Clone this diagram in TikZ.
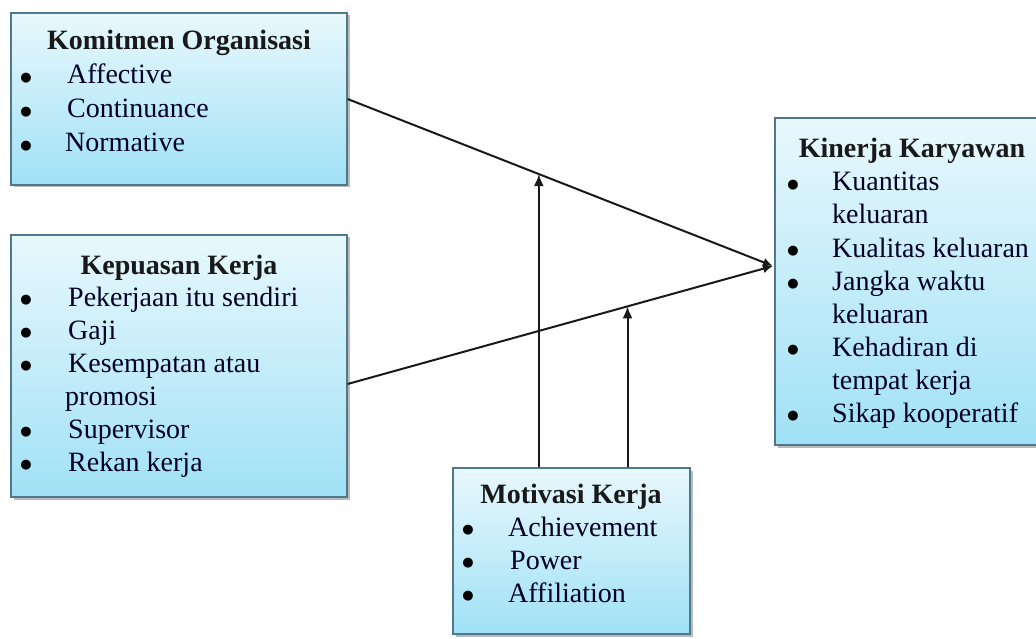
\documentclass[tikz,border=0pt]{standalone}
\usepackage{fontspec}
\setmainfont{Liberation Serif}
\newfontfamily\dejavu{DejaVu Sans}
\usetikzlibrary{arrows.meta,shadows,calc}
\definecolor{boxtop}{RGB}{232,248,253}
\definecolor{boxbot}{RGB}{160,225,246}
\definecolor{boxline}{RGB}{80,120,140}
\tikzset{
  panel/.style={draw=boxline, line width=1.2pt, top color=boxtop, bottom color=boxbot,
    inner sep=0pt, drop shadow={shadow xshift=2.5pt, shadow yshift=-2.5pt, fill=black!45, opacity=0.6}},
  ttl/.style={font=\fontsize{28}{33}\selectfont\bfseries, anchor=base, inner sep=0pt, text=black!90},
  itm/.style={font=\fontsize{28}{33}\selectfont, anchor=base west, inner sep=0pt, text=black!85!blue},
  bul/.style={font=\dejavu\fontsize{13}{14}\selectfont, anchor=base, inner sep=0pt, yshift=2.5pt},
  link/.style={line width=2pt, black!90},
  tipa/.style={-{Latex[length=10pt,width=9pt]}},
  upa/.style={-{Latex[length=12pt,width=10pt]}},
}
\begin{document}
\begin{tikzpicture}[x=1pt,y=-1pt]
\useasboundingbox (0,0) rectangle (1036,639);
\fill[white] (0,0) rectangle (1036,639);
\begin{scope}
\clip (0,0) rectangle (1036,639);
% boxes
\node[panel, minimum width=336pt, minimum height=172pt] (k1) at (179,99) {};
\node[panel, minimum width=336pt, minimum height=262pt] (k2) at (179,366) {};
\node[panel, minimum width=237pt, minimum height=166pt] (m3) at (571.5,551) {};
\node[panel, minimum width=275pt, minimum height=327pt] (k4) at (912.5,281.5) {};

% Komitmen Organisasi
\node[ttl] (k1t) at (179,50) {Komitmen Organisasi};
\node[bul] (k1b1) at (26,84) {●};  \node[itm] (k1i1) at (67,84) {Affective};
\node[bul] (k1b2) at (26,118) {●}; \node[itm] (k1i2) at (67,118) {Continuance};
\node[bul] (k1b3) at (26,152) {●}; \node[itm] (k1i3) at (65,152) {Normative};

% Kepuasan Kerja
\node[ttl] (k2t) at (179,274) {Kepuasan Kerja};
\node[bul] (k2b1) at (26,306) {●}; \node[itm] (k2i1) at (68,306) {Pekerjaan itu sendiri};
\node[bul] (k2b2) at (26,339) {●}; \node[itm] (k2i2) at (68,339) {Gaji};
\node[bul] (k2b3) at (26,372) {●}; \node[itm] (k2i3) at (68,372) {Kesempatan atau};
\node[itm] (k2i3b) at (65,405) {promosi};
\node[bul] (k2b4) at (26,438) {●}; \node[itm] (k2i4) at (68,438) {Supervisor};
\node[bul] (k2b5) at (26,471) {●}; \node[itm] (k2i5) at (68,471) {Rekan kerja};

% Motivasi Kerja
\node[ttl] (m3t) at (571,503) {Motivasi Kerja};
\node[bul] (m3b1) at (468,536) {●}; \node[itm] (m3i1) at (508,536) {Achievement};
\node[bul] (m3b2) at (468,569) {●}; \node[itm] (m3i2) at (510,569) {Power};
\node[bul] (m3b3) at (468,602) {●}; \node[itm] (m3i3) at (508,602) {Affiliation};

% Kinerja Karyawan
\node[ttl] (k4t) at (912,158) {Kinerja Karyawan};
\node[bul] (k4b1) at (793,191) {●}; \node[itm] (k4i1) at (832,191) {Kuantitas};
\node[itm] (k4i1b) at (832,224) {keluaran};
\node[bul] (k4b2) at (793,257) {●}; \node[itm] (k4i2) at (832,257) {Kualitas keluaran};
\node[bul] (k4b3) at (793,290) {●}; \node[itm] (k4i3) at (832,290) {Jangka waktu};
\node[itm] (k4i3b) at (832,323) {keluaran};
\node[bul] (k4b4) at (793,356) {●}; \node[itm] (k4i4) at (832,356) {Kehadiran di};
\node[itm] (k4i4b) at (832,389) {tempat kerja};
\node[bul] (k4b5) at (793,422) {●}; \node[itm] (k4i5) at (832,422) {Sikap kooperatif};

% connectors
\coordinate (tip) at (773,266);
\coordinate (s2) at ([yshift=-18pt]k2.east);
\coordinate (c1) at ($(k1.east)!0.4496!(tip)$);
\coordinate (c2) at ($(s2)!0.658!(tip)$);
\draw[link, tipa] (k1.east) -- (tip);
\draw[link, tipa] (s2) -- (tip);
\draw[link, upa] (c1 |- m3.north) -- (c1);
\draw[link, upa] (c2 |- m3.north) -- (c2);
\end{scope}
\end{tikzpicture}
\end{document}
